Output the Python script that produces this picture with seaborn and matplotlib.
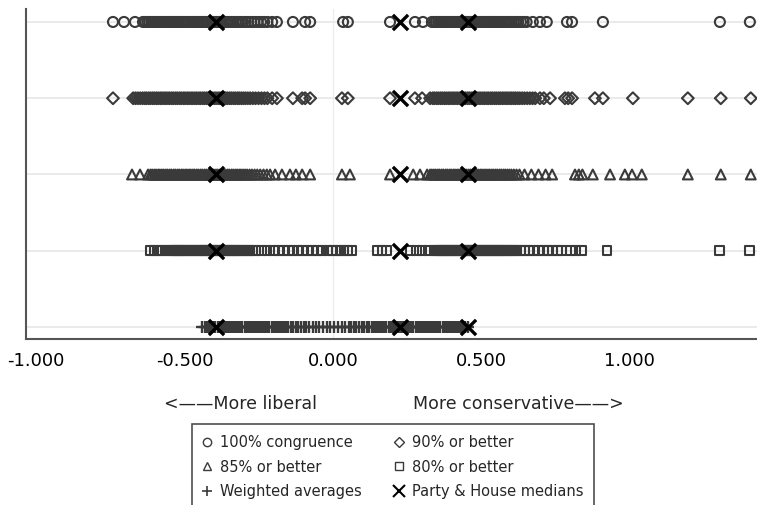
import matplotlib
matplotlib.use("Agg")
import matplotlib.pyplot as plt  # noqa: E402
from matplotlib.lines import Line2D  # noqa: E402
import pandas as pd  # noqa: E402
import seaborn as sns  # noqa: E402

# ideology scores, one list per congruence threshold
congruence_100 = [
    -0.741, -0.704, -0.667, -0.640,
    -0.632, -0.625, -0.619, -0.612, -0.606, -0.599, -0.593, -0.587, -0.580, -0.574, -0.567, -0.561,
    -0.554, -0.548, -0.541, -0.535, -0.529, -0.522, -0.516, -0.509, -0.503, -0.497, -0.490, -0.484,
    -0.477, -0.471, -0.465, -0.458, -0.452, -0.445, -0.439, -0.433, -0.426, -0.420, -0.413, -0.407,
    -0.401, -0.394, -0.388, -0.381, -0.375, -0.369, -0.362, -0.356, -0.349, -0.343, -0.336, -0.328,
    -0.320, -0.312, -0.303, -0.294, -0.285, -0.275, -0.265, -0.254, -0.243, -0.232, -0.221,
    -0.205, -0.189, -0.135, -0.094, -0.077, 0.034, 0.050,
    0.192, 0.276, 0.303, 0.333,
    0.341, 0.347, 0.354, 0.360, 0.367, 0.373, 0.380, 0.386, 0.393, 0.399, 0.406, 0.412,
    0.419, 0.425, 0.432, 0.438, 0.445, 0.451, 0.458, 0.464, 0.471, 0.477, 0.484, 0.490,
    0.497, 0.503, 0.510, 0.516, 0.523, 0.529, 0.536, 0.542, 0.549, 0.555, 0.562, 0.568,
    0.575, 0.581, 0.588, 0.594, 0.601, 0.608, 0.616, 0.624, 0.633, 0.642, 0.652,
    0.673, 0.697, 0.720, 0.788, 0.805, 0.909, 1.303, 1.404,
]
better_90 = [
    -0.741, -0.673, -0.665, -0.657, -0.649,
    -0.641, -0.634, -0.628, -0.621, -0.615, -0.608, -0.602, -0.595, -0.589, -0.582, -0.576, -0.569,
    -0.563, -0.556, -0.550, -0.543, -0.537, -0.530, -0.524, -0.517, -0.511, -0.504, -0.498, -0.491,
    -0.485, -0.478, -0.472, -0.465, -0.459, -0.452, -0.446, -0.439, -0.433, -0.426, -0.420, -0.413,
    -0.407, -0.400, -0.394, -0.387, -0.381, -0.374, -0.368, -0.361, -0.355, -0.348, -0.342, -0.335,
    -0.329, -0.322, -0.316, -0.309, -0.302, -0.295, -0.287, -0.279, -0.270, -0.261, -0.251, -0.241,
    -0.231, -0.221,
    -0.205, -0.189, -0.135, -0.104, -0.094, -0.077, 0.030, 0.050,
    0.192, 0.276, 0.300, 0.327,
    0.336, 0.342, 0.349, 0.355, 0.362, 0.368, 0.375, 0.381, 0.388, 0.394, 0.401, 0.407,
    0.414, 0.420, 0.427, 0.433, 0.440, 0.446, 0.453, 0.459, 0.466, 0.472, 0.479, 0.485,
    0.492, 0.498, 0.505, 0.511, 0.518, 0.524, 0.531, 0.537, 0.544, 0.550, 0.557, 0.563,
    0.570, 0.576, 0.583, 0.589, 0.596, 0.602, 0.609, 0.615, 0.622, 0.629, 0.637, 0.645,
    0.654, 0.663, 0.672, 0.681,
    0.697, 0.710, 0.731, 0.781, 0.792, 0.805, 0.882, 0.909, 1.010, 1.195, 1.306, 1.407,
]
better_85 = [
    -0.677, -0.650, -0.623,
    -0.615, -0.609, -0.602, -0.596, -0.589, -0.583, -0.576, -0.570, -0.563, -0.557, -0.550, -0.544,
    -0.537, -0.531, -0.524, -0.518, -0.511, -0.505, -0.498, -0.492, -0.485, -0.479, -0.472, -0.466,
    -0.459, -0.453, -0.446, -0.440, -0.433, -0.427, -0.420, -0.414, -0.407, -0.401, -0.394, -0.388,
    -0.381, -0.375, -0.368, -0.362, -0.355, -0.349, -0.342, -0.336, -0.329, -0.323, -0.316, -0.310,
    -0.303, -0.296, -0.289, -0.281, -0.273, -0.264, -0.255, -0.245, -0.234, -0.223,
    -0.212, -0.195, -0.172, -0.145, -0.125, -0.104, -0.077, 0.030, 0.057,
    0.192, 0.270, 0.293, 0.317,
    0.327, 0.333, 0.340, 0.346, 0.353, 0.359, 0.366, 0.372, 0.379, 0.385, 0.392, 0.398,
    0.405, 0.411, 0.418, 0.424, 0.431, 0.437, 0.444, 0.450, 0.457, 0.463, 0.470, 0.476,
    0.483, 0.489, 0.496, 0.502, 0.509, 0.515, 0.522, 0.528, 0.535, 0.541, 0.548, 0.554,
    0.561, 0.567, 0.574, 0.580, 0.587, 0.594, 0.601, 0.609, 0.618, 0.628,
    0.645, 0.668, 0.692, 0.716, 0.738, 0.815, 0.828, 0.840, 0.875, 0.933, 0.983, 1.007,
    1.040, 1.195, 1.306, 1.407,
]
better_80 = [
    -0.616, -0.603, -0.590, -0.578, -0.566, -0.555, -0.545,
    -0.538, -0.531, -0.524, -0.517, -0.510, -0.503, -0.496, -0.489, -0.482, -0.475, -0.468, -0.461,
    -0.454, -0.447, -0.440, -0.433, -0.426, -0.419, -0.412, -0.405, -0.398, -0.391, -0.384, -0.377,
    -0.370, -0.363, -0.356, -0.349, -0.342, -0.335, -0.328, -0.321, -0.314, -0.306, -0.298, -0.289,
    -0.280, -0.270, -0.260,
    -0.240, -0.222, -0.200, -0.184, -0.168, -0.150, -0.135, -0.118, -0.104, -0.087, -0.070, -0.053,
    -0.037, -0.017, -0.003, 0.012, 0.024, 0.037, 0.050, 0.064, 0.150, 0.165, 0.180,
    0.262, 0.282, 0.300, 0.322, 0.340,
    0.348, 0.354, 0.361, 0.367, 0.374, 0.380, 0.387, 0.393, 0.400, 0.406, 0.413, 0.419,
    0.426, 0.432, 0.439, 0.445, 0.452, 0.458, 0.465, 0.471, 0.478, 0.484, 0.491, 0.497,
    0.504, 0.510, 0.517, 0.523, 0.530, 0.536, 0.543, 0.549, 0.556, 0.562, 0.569, 0.575,
    0.582, 0.589, 0.596, 0.604, 0.612, 0.620,
    0.632, 0.645, 0.660, 0.676, 0.692, 0.708, 0.724, 0.740, 0.755, 0.770, 0.800, 0.818,
    0.836, 0.923, 1.303, 1.404,
]
weighted_avg = [
    -0.440, -0.431, -0.424, -0.417, -0.410, -0.403, -0.396, -0.389, -0.382, -0.375, -0.368, -0.361,
    -0.354, -0.347, -0.340, -0.333, -0.326, -0.319, -0.312, -0.305, -0.298, -0.291, -0.284, -0.277,
    -0.270, -0.263, -0.256, -0.249, -0.242, -0.235, -0.228, -0.221, -0.214, -0.207, -0.200, -0.193,
    -0.186, -0.179, -0.172, -0.165, -0.158, -0.151, -0.143, -0.135, -0.126, -0.117, -0.108, -0.099,
    -0.090, -0.080, -0.069, -0.058, -0.046, -0.033, -0.020, -0.010, 0.004, 0.017, 0.029, 0.042,
    0.053, 0.062, 0.070, 0.079, 0.088, 0.097, 0.106, 0.114, 0.122, 0.130, 0.138, 0.145,
    0.152, 0.159, 0.166, 0.173, 0.180, 0.187, 0.194, 0.201, 0.208, 0.215, 0.222, 0.229,
    0.236, 0.243, 0.250, 0.257, 0.264, 0.271, 0.278, 0.285, 0.292, 0.299, 0.306, 0.313,
    0.320, 0.327, 0.334, 0.341, 0.348, 0.355, 0.362, 0.369, 0.376, 0.383, 0.390, 0.397,
    0.404, 0.411, 0.418, 0.425, 0.432, 0.439, 0.446, 0.455,
]
# Democratic, House and Republican medians
medians = [-0.394, 0.226, 0.455]

series_labels = ["100% congruence", "90% or better", "85% or better",
                 "80% or better", "Weighted averages"]
series_values = [congruence_100, better_90, better_85, better_80, weighted_avg]
series_rows = [5, 4, 3, 2, 1]
series_markers = ["o", "D", "^", "s", "+"]

GRAY = "#3a3a3a"
sizes = {"o": 52, "D": 36, "^": 50, "s": 40, "+": 72}

frames = []
for label, vals, row in zip(series_labels, series_values, series_rows):
    frames.append(pd.DataFrame({"score": vals, "row": row, "series": label}))
df = pd.concat(frames, ignore_index=True)
med_df = pd.DataFrame({
    "score": [m for _ in series_rows for m in medians],
    "row": [r for r in series_rows for _ in medians],
})

sns.set_style("white")
plt.rcParams["font.family"] = ["DejaVu Sans"]

fig = plt.figure(figsize=(7.57, 5.05), dpi=100)
ax = fig.add_axes([26 / 757, 1 - 339 / 505, 731 / 757, 330 / 505])

for y in series_rows:
    ax.axhline(y, color="#e6e6e6", lw=1.2, zorder=0)
ax.axvline(0, color="#ececec", lw=1.0, zorder=0)

for label, marker in zip(series_labels, series_markers):
    sub = df[df["series"] == label]
    if marker == "+":
        sns.scatterplot(data=sub, x="score", y="row", marker=marker, s=sizes[marker],
                        color=GRAY, linewidth=1.7, ax=ax, zorder=2)
    else:
        sns.scatterplot(data=sub, x="score", y="row", marker=marker, s=sizes[marker],
                        fc="none", ec=GRAY, linewidth=1.5, ax=ax, zorder=2)

sns.scatterplot(data=med_df, x="score", y="row", marker="x", s=120, color="black",
                linewidth=2.4, ax=ax, zorder=3)

ax.set_xlim(-1.034, 1.428)
ax.set_ylim(0.843, 5.17)
ax.set_xticks([-1.0, -0.5, 0.0, 0.5, 1.0])
ax.set_xticklabels(["-1.000", "-0.500", "0.000", "0.500", "1.000"], fontsize=13)
ax.set_yticks([])
ax.set_xlabel("")
ax.set_ylabel("")
ax.tick_params(axis="x", length=6, width=1.2, color="#555555", pad=3, labelcolor="black")
for side in ["top", "right"]:
    ax.spines[side].set_visible(False)
for side in ["left", "bottom"]:
    ax.spines[side].set_color("#555555")
    ax.spines[side].set_linewidth(1.5)

fig.text(241 / 757, 1 - 404 / 505, "<\u2014\u2014More liberal", fontsize=12.5,
         ha="center", va="center")
fig.text(518 / 757, 1 - 404 / 505, "More conservative\u2014\u2014>", fontsize=12.5,
         ha="center", va="center")

handles = [
    Line2D([], [], marker="o", ls="none", mfc="none", mec=GRAY, ms=6, mew=1),
    Line2D([], [], marker="D", ls="none", mfc="none", mec=GRAY, ms=5.5, mew=1),
    Line2D([], [], marker="^", ls="none", mfc="none", mec=GRAY, ms=6, mew=1),
    Line2D([], [], marker="s", ls="none", mfc="none", mec=GRAY, ms=6, mew=1),
    Line2D([], [], marker="+", ls="none", color=GRAY, ms=7, mew=1.2),
    Line2D([], [], marker="x", ls="none", color="black", ms=8, mew=1.5),
]
labels = series_labels + ["Party & House medians"]
order = [0, 2, 4, 1, 3, 5]
leg = fig.legend([handles[i] for i in order], [labels[i] for i in order], ncol=2,
                 loc="upper left", bbox_to_anchor=(192 / 757, 1 - 424 / 505),
                 fontsize=10.5, frameon=True, fancybox=False, edgecolor="#222222",
                 handlelength=0.6, handletextpad=0.6, columnspacing=2.2,
                 labelspacing=0.66, borderpad=0.75, borderaxespad=0)
leg.get_frame().set_linewidth(1.2)

fig.savefig("out.png", dpi=100)
